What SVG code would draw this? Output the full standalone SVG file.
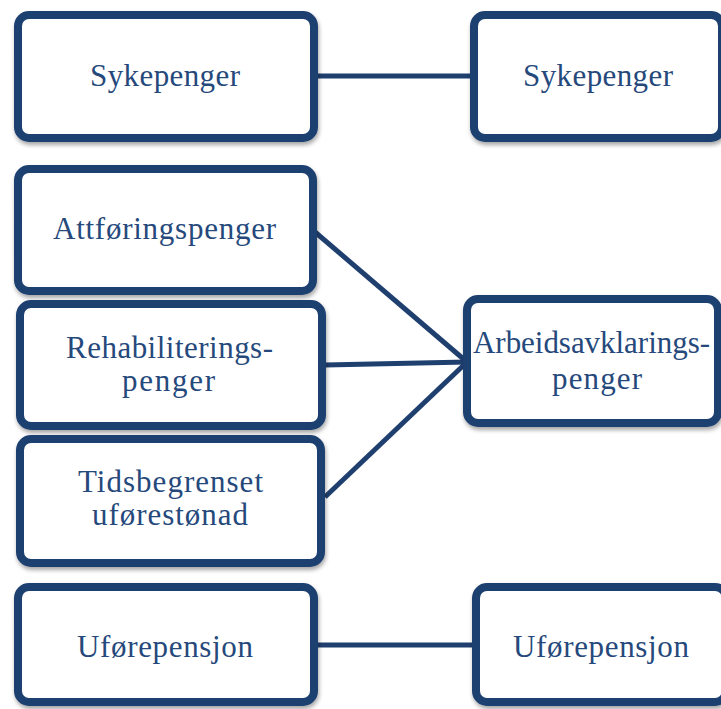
<svg xmlns="http://www.w3.org/2000/svg" width="721" height="709" viewBox="0 0 721 709">
<style>
.box{fill:#ffffff;stroke:#1F3F6F;stroke-width:8;filter:url(#sh)}
.lbl{font-family:"Liberation Serif","DejaVu Serif",serif;font-size:31px;fill:#26497C}
.con{stroke:#1F3F6F;stroke-width:5;fill:none;stroke-linecap:butt}
</style>
<defs>
<filter id="sh" x="-10%" y="-10%" width="125%" height="130%">
<feDropShadow dx="1" dy="3" stdDeviation="2" flood-color="#000" flood-opacity="0.35"/>
</filter>
</defs>
<rect width="721" height="709" fill="#ffffff"/>
<g id="connectors">
<line class="con" x1="318" y1="76" x2="471" y2="76"/>
<line class="con" x1="315" y1="232" x2="467" y2="362"/>
<line class="con" x1="325" y1="365" x2="467" y2="362"/>
<line class="con" x1="325" y1="497" x2="467" y2="362"/>
<line class="con" x1="318" y1="645" x2="473" y2="645"/>
</g>
<g id="sykepenger-left">
<rect class="box" x="18" y="15" width="296" height="123" rx="11"/>
<text class="lbl" x="90" y="86" textLength="150">Sykepenger</text>
</g>
<g id="sykepenger-right">
<rect class="box" x="474" y="15" width="248" height="123" rx="11"/>
<text class="lbl" x="523" y="86" textLength="150">Sykepenger</text>
</g>
<g id="attforingspenger">
<rect class="box" x="18" y="169" width="295" height="122" rx="11"/>
<text class="lbl" x="53" y="239" textLength="223">Attføringspenger</text>
</g>
<g id="rehabiliteringspenger">
<rect class="box" x="20" y="304" width="302" height="122" rx="11"/>
<text class="lbl" x="66" y="358" textLength="207">Rehabiliterings-</text>
<text class="lbl" x="122" y="391" textLength="93">penger</text>
</g>
<g id="tidsbegrenset">
<rect class="box" x="20" y="439" width="301" height="124" rx="11"/>
<text class="lbl" x="78" y="492" textLength="185">Tidsbegrenset</text>
<text class="lbl" x="92" y="525" textLength="156">uførestønad</text>
</g>
<g id="arbeidsavklaringspenger">
<rect class="box" x="467" y="299" width="251" height="124" rx="11"/>
<text class="lbl" x="473" y="353" textLength="237">Arbeidsavklarings-</text>
<text class="lbl" x="552" y="389" textLength="90">penger</text>
</g>
<g id="uforepensjon-left">
<rect class="box" x="18" y="587" width="296" height="115" rx="11"/>
<text class="lbl" x="77" y="657" textLength="176">Uførepensjon</text>
</g>
<g id="uforepensjon-right">
<rect class="box" x="476" y="587" width="250" height="115" rx="11"/>
<text class="lbl" x="513" y="657" textLength="176">Uførepensjon</text>
</g>
</svg>
